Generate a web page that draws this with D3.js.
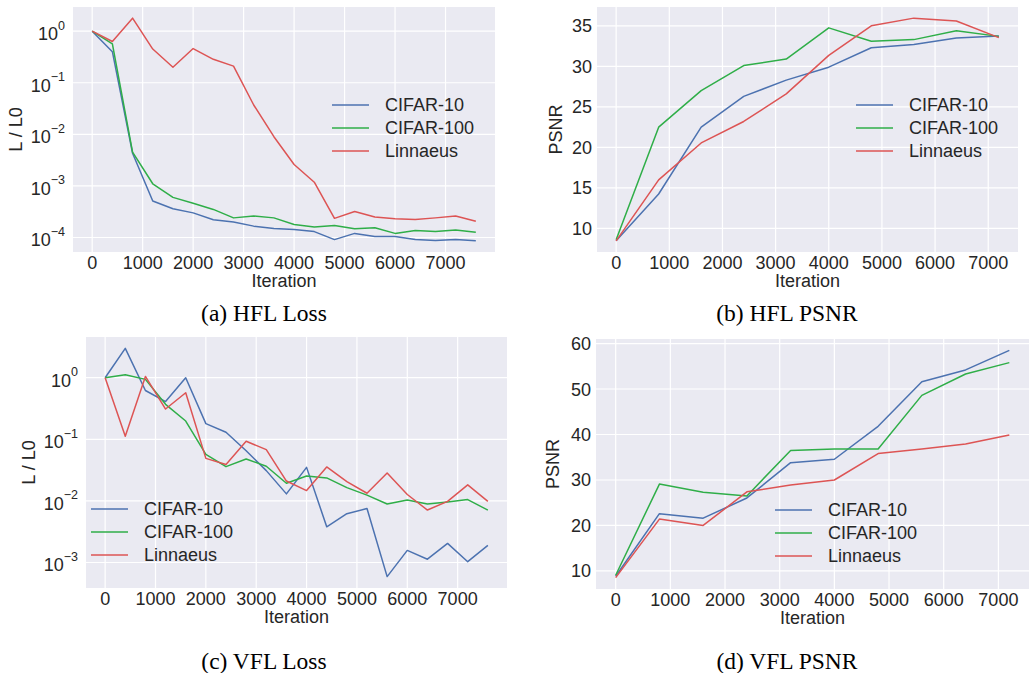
<!DOCTYPE html>
<html>
<head>
<meta charset="utf-8">
<script src="https://cdn.jsdelivr.net/npm/d3@7"></script>
<style>
  body { margin: 0; background: #fff; }
  svg { display: block; }
</style>
</head>
<body>
<svg id="chart" width="1029" height="673"></svg>
<script>
// Loss / PSNR curves for HFL and VFL attacks (2x2 grid)

const seriesNames = ['CIFAR-10', 'CIFAR-100', 'Linnaeus'];
const seriesColors = ['#4c72b0', '#2fae48', '#dd5454'];
const xTicks = [0, 1000, 2000, 3000, 4000, 5000, 6000, 7000];

// loss curves are sampled every 400 iterations, PSNR every 800
const lossIters = [0, 400, 800, 1200, 1600, 2000, 2400, 2800, 3200, 3600, 4000,
    4400, 4800, 5200, 5600, 6000, 6400, 6800, 7200, 7600];
const psnrIters = [0, 800, 1600, 2400, 3200, 4000, 4800, 5600, 6400, 7200];

// (a) HFL loss
const hflLossC10 = [1, 0.40, 0.0043, 5.1e-4, 3.6e-4, 3.0e-4, 2.2e-4, 2.0e-4, 1.66e-4, 1.5e-4,
    1.43e-4, 1.3e-4, 9.1e-5, 1.2e-4, 1.05e-4, 1.04e-4, 9.1e-5, 8.7e-5, 9.1e-5, 8.6e-5];
const hflLossC100 = [1, 0.57, 0.0045, 1.1e-3, 6.0e-4, 4.6e-4, 3.5e-4, 2.4e-4, 2.6e-4, 2.4e-4,
    1.78e-4, 1.6e-4, 1.7e-4, 1.48e-4, 1.55e-4, 1.2e-4, 1.37e-4, 1.3e-4, 1.4e-4, 1.27e-4];
const hflLossLin = [1, 0.63, 1.79, 0.45, 0.2, 0.46, 0.285, 0.21, 0.037, 0.009,
    0.0026, 0.00118, 2.35e-4, 3.2e-4, 2.5e-4, 2.3e-4, 2.24e-4, 2.4e-4, 2.6e-4, 2.06e-4];

// (b) HFL PSNR
const hflPsnrC10 = [8.47, 14.25, 22.5, 26.3, 28.3, 29.9, 32.3, 32.7, 33.5, 33.75];
const hflPsnrC100 = [8.6, 22.5, 27.0, 30.1, 30.9, 34.75, 33.1, 33.3, 34.4, 33.7];
const hflPsnrLin = [8.47, 16.0, 20.55, 23.2, 26.6, 31.35, 35.0, 35.95, 35.6, 33.55];

// (c) VFL loss
const vflLossC10 = [1, 2.99, 0.62, 0.41, 1.0, 0.18, 0.13, 0.065, 0.031, 0.013,
    0.035, 0.0038, 0.0062, 0.0075, 5.9e-4, 0.00157, 0.00113, 0.00204, 0.00103, 0.00189];
const vflLossC100 = [1, 1.12, 0.94, 0.37, 0.198, 0.057, 0.036, 0.048, 0.0365, 0.0193,
    0.0254, 0.0236, 0.0164, 0.0124, 0.0089, 0.0103, 0.0089, 0.0096, 0.0105, 0.0071];
const vflLossLin = [1, 0.112, 1.05, 0.31, 0.57, 0.049, 0.039, 0.093, 0.068, 0.021,
    0.0147, 0.0356, 0.0206, 0.0133, 0.0284, 0.0127, 0.0071, 0.0098, 0.0182, 0.0098];

// (d) VFL PSNR
const vflPsnrC10 = [8.83, 22.6, 21.6, 26.05, 33.8, 34.56, 41.8, 51.6, 54.2, 58.5];
const vflPsnrC100 = [9.05, 29.1, 27.3, 26.5, 36.5, 36.8, 36.8, 48.6, 53.3, 55.8];
const vflPsnrLin = [8.53, 21.4, 20.0, 27.4, 28.9, 30.0, 35.8, 36.8, 37.9, 39.9];

const psnrTicksHfl = [10, 15, 20, 25, 30, 35];
const psnrTicksVfl = [10, 20, 30, 40, 50, 60];

const svg = d3.select('#chart');
const FONT = '"Liberation Sans", Arial, sans-serif';
const FS = '18px';

// matplotlib style 5% padding
function pad(ext) {
    const m = (ext[1] - ext[0]) * 0.05;
    return [ext[0] - m, ext[1] + m];
}

function drawPanel(p) {
    const g = svg.append('g');

    const x = d3.scaleLinear()
        .domain(pad(d3.extent(p.iters)))
        .range([p.left, p.right]);

    const allVals = p.series.flat();
    let y;
    if (p.log) {
        const [lo, hi] = pad(d3.extent(allVals).map(Math.log10));
        y = d3.scaleLog().domain([Math.pow(10, lo), Math.pow(10, hi)]).range([p.bottom, p.top]);
    } else {
        y = d3.scaleLinear().domain(pad(d3.extent(allVals))).range([p.bottom, p.top]);
    }

    g.append('rect')
        .attr('x', p.left)
        .attr('y', p.top)
        .attr('width', p.right - p.left)
        .attr('height', p.bottom - p.top)
        .attr('fill', '#eaeaf2');

    // grid
    xTicks.forEach(t => {
        g.append('line')
            .attr('x1', x(t)).attr('x2', x(t))
            .attr('y1', p.top).attr('y2', p.bottom)
            .attr('stroke', '#fff').attr('stroke-width', 1.2);
    });
    p.yTicks.forEach(t => {
        g.append('line')
            .attr('x1', p.left).attr('x2', p.right)
            .attr('y1', y(t)).attr('y2', y(t))
            .attr('stroke', '#fff').attr('stroke-width', 1.2);
    });

    // curves
    const line = d3.line()
        .x((d, i) => x(p.iters[i]))
        .y(d => y(d));

    p.series.forEach((vals, i) => {
        g.append('path')
            .datum(vals)
            .attr('fill', 'none')
            .attr('stroke', seriesColors[i])
            .attr('stroke-width', 1.5)
            .attr('stroke-linejoin', 'round')
            .attr('d', line);
    });

    // x tick labels
    xTicks.forEach(t => {
        g.append('text')
            .attr('x', x(t))
            .attr('y', p.bottom + 17)
            .attr('text-anchor', 'middle')
            .attr('font-family', FONT)
            .attr('font-size', FS)
            .attr('fill', '#262626')
            .text(t);
    });

    // y tick labels
    p.yTicks.forEach(t => {
        if (p.log) {
            const e = Math.round(Math.log10(t));
            const txt = g.append('text')
                .attr('x', p.left - 8)
                .attr('y', y(t) + 9)
                .attr('text-anchor', 'end')
                .attr('font-family', FONT)
                .attr('fill', '#262626');
            txt.append('tspan').attr('font-size', FS).text('10');
            txt.append('tspan')
                .attr('font-size', '12.5px')
                .attr('dy', -10.5)
                .text(e < 0 ? '\u2212' + (-e) : e);
        } else {
            g.append('text')
                .attr('x', p.left - 5)
                .attr('y', y(t))
                .attr('dy', '0.36em')
                .attr('text-anchor', 'end')
                .attr('font-family', FONT)
                .attr('font-size', FS)
                .attr('fill', '#262626')
                .text(t);
        }
    });

    // axis titles
    g.append('text')
        .attr('x', (p.left + p.right) / 2)
        .attr('y', p.bottom + 35)
        .attr('text-anchor', 'middle')
        .attr('font-family', FONT)
        .attr('font-size', FS)
        .attr('fill', '#262626')
        .text('Iteration');

    g.append('text')
        .attr('transform', `translate(${p.yLabelX},${(p.top + p.bottom) / 2}) rotate(-90)`)
        .attr('text-anchor', 'middle')
        .attr('font-family', FONT)
        .attr('font-size', FS)
        .attr('fill', '#262626')
        .text(p.yLabel);

    // legend
    seriesNames.forEach((name, i) => {
        const ly = p.legend.y + i * 23;
        g.append('line')
            .attr('x1', p.legend.x).attr('x2', p.legend.x + 37)
            .attr('y1', ly).attr('y2', ly)
            .attr('stroke', seriesColors[i])
            .attr('stroke-width', 1.7);
        g.append('text')
            .attr('x', p.legend.x + 53)
            .attr('y', ly)
            .attr('dy', '0.36em')
            .attr('font-family', FONT)
            .attr('font-size', FS)
            .attr('fill', '#262626')
            .text(name);
    });

    // caption
    svg.append('text')
        .attr('x', p.captionX)
        .attr('y', p.captionY)
        .attr('text-anchor', 'middle')
        .attr('font-family', '"Liberation Serif", "Times New Roman", serif')
        .attr('font-size', '23.5px')
        .attr('fill', '#000')
        .text(p.caption);
}

drawPanel({
    iters: lossIters, series: [hflLossC10, hflLossC100, hflLossLin], log: true,
    yTicks: [1, 1e-1, 1e-2, 1e-3, 1e-4], yLabel: 'L / L0',
    left: 73, right: 495, top: 7, bottom: 252, yLabelX: 22,
    legend: { x: 332, y: 105 }, caption: '(a) HFL Loss', captionX: 264, captionY: 321
});

drawPanel({
    iters: psnrIters, series: [hflPsnrC10, hflPsnrC100, hflPsnrLin], log: false,
    yTicks: psnrTicksHfl, yLabel: 'PSNR',
    left: 597, right: 1018, top: 7, bottom: 252, yLabelX: 562,
    legend: { x: 856, y: 105 }, caption: '(b) HFL PSNR', captionX: 787, captionY: 321
});

drawPanel({
    iters: lossIters, series: [vflLossC10, vflLossC100, vflLossLin], log: true,
    yTicks: [1, 1e-1, 1e-2, 1e-3], yLabel: 'L / L0',
    left: 86, right: 507, top: 337, bottom: 588, yLabelX: 35,
    legend: { x: 91, y: 509 }, caption: '(c) VFL Loss', captionX: 264, captionY: 669
});

drawPanel({
    iters: psnrIters, series: [vflPsnrC10, vflPsnrC100, vflPsnrLin], log: false,
    yTicks: psnrTicksVfl, yLabel: 'PSNR',
    left: 596, right: 1029, top: 339, bottom: 589, yLabelX: 559,
    legend: { x: 775, y: 510 }, caption: '(d) VFL PSNR', captionX: 787, captionY: 669
});
</script>
</body>
</html>
